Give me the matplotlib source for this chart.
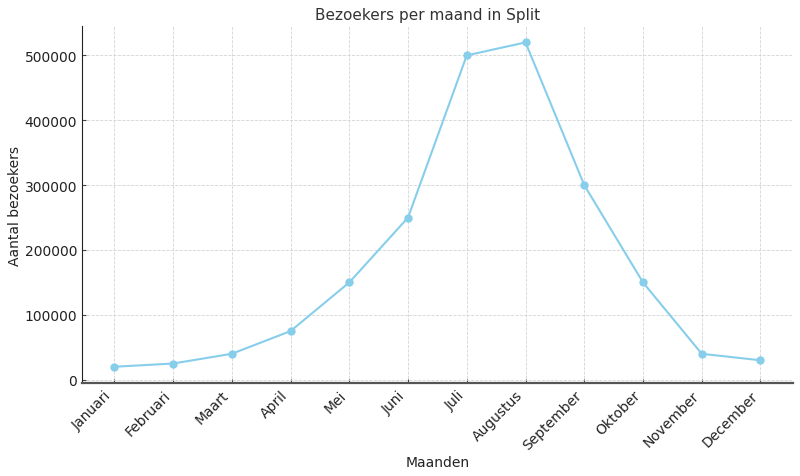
import matplotlib
matplotlib.use("Agg")
import matplotlib.pyplot as plt

months = ["Januari", "Februari", "Maart", "April", "Mei", "Juni", "Juli",
          "Augustus", "September", "Oktober", "November", "December"]
visitors = [20000, 25000, 40000, 75000, 150000, 250000, 500000,
            520000, 300000, 150000, 40000, 30000]

fig, ax = plt.subplots(figsize=(8, 4.77), dpi=100)
fig.subplots_adjust(left=0.1025, right=0.991, top=0.943, bottom=0.195)

ax.plot(months, visitors, color="skyblue", marker="o", markersize=5, linewidth=1.5)

ax.set_title("Bezoekers per maand in Split", fontsize=11, color="#333333", pad=5, x=0.486)
ax.set_xlabel("Maanden", fontsize=10, color="#222222", labelpad=2)
ax.set_ylabel("Aantal bezoekers", fontsize=10, color="#222222", labelpad=2)
ax.grid(True, linestyle="--", color="#d4d4d4", linewidth=0.6)
ax.spines["top"].set_visible(False)
ax.spines["right"].set_visible(False)
ax.spines["left"].set_color("#222222")
ax.spines["bottom"].set_color("#555555")
ax.spines["bottom"].set_linewidth(1.6)
ax.tick_params(direction="in", length=3, colors="#444444", labelcolor="#222222", labelsize=10)
plt.setp(ax.get_xticklabels(), rotation=45, ha="right")

fig.savefig("out.png", dpi=100)
